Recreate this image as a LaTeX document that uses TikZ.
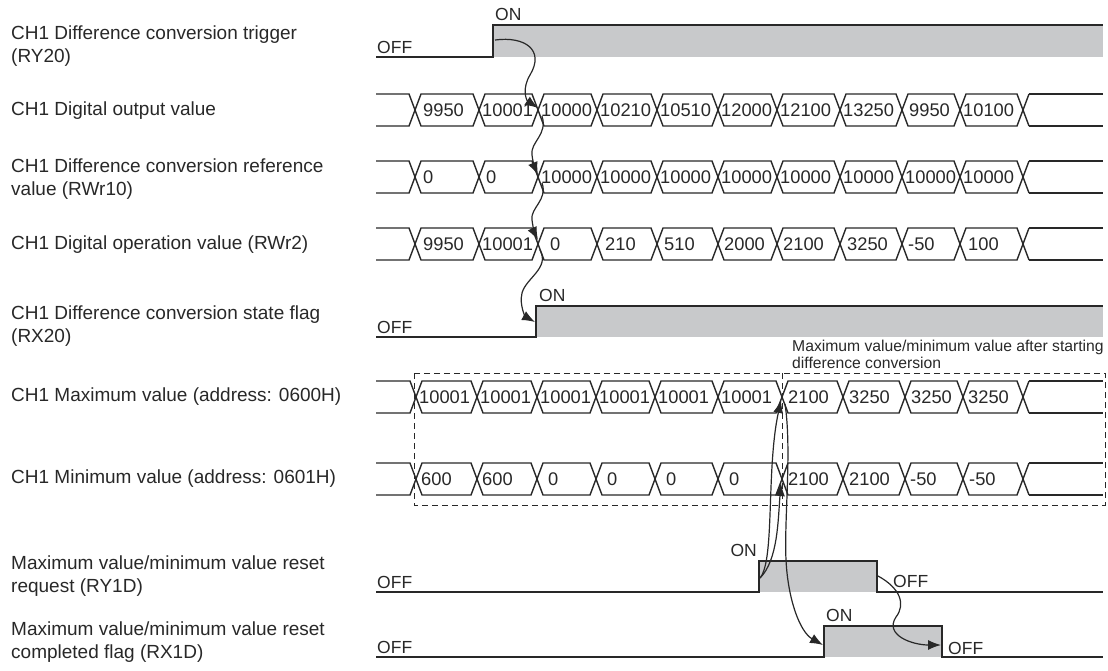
\documentclass[tikz,border=0pt]{standalone}
\usepackage{fontspec}
\setmainfont{Liberation Sans}
\usetikzlibrary{arrows.meta}
\definecolor{ink}{RGB}{40,40,40}
\definecolor{fillg}{RGB}{200,201,203}
\newcommand\busline[3]{%
  \draw[sig] (376,#1-16) \foreach \cx [count=\i, evaluate=\i as \s using {1-2*mod(\i+1,2)}] in {#2} { -- ({\cx-6},{#1-16*\s}) -- ({\cx+6},{#1+16*\s}) };
  \draw[sig] (376,#1+16) \foreach \cx [count=\i, evaluate=\i as \s using {1-2*mod(\i+1,2)}] in {#2} { -- ({\cx-6},{#1+16*\s}) -- ({\cx+6},{#1-16*\s}) };
  \draw[sig] ({#3+6},#1-16) -- (1103,#1-16) ({#3+6},#1+16) -- (1103,#1+16);
}
\newcommand\busvals[2]{%
  \foreach \px/\v in {#2} { \node[val] at (\px,#1) {\v}; }
}
\begin{document}
\begin{tikzpicture}[x=1pt,y=-1pt,
  sig/.style={draw=ink, line width=1.4pt},
  lbl/.style={anchor=west, align=left, inner sep=0pt, font=\fontsize{19}{22.5}\selectfont, text=ink},
  val/.style={anchor=west, inner sep=0pt, font=\fontsize{18.3}{20}\selectfont, text=ink},
  st/.style={inner sep=0pt, font=\fontsize{17.5}{20}\selectfont, text=ink},
  note/.style={anchor=north west, align=left, inner sep=0pt, font=\fontsize{15.7}{16.5}\selectfont, text=ink},
  dbox/.style={draw=ink, line width=1pt, dash pattern=on 6pt off 4pt},
  arr/.style={draw=ink, line width=1.2pt, -{Latex[length=13pt,width=10pt]}}]
\useasboundingbox (0,0) rectangle (1108,670);

% ---- labels
\node[lbl] (l1) at (11,46) {CH1 Difference conversion trigger\\(RY20)};
\node[lbl] (l2) at (11,111) {CH1 Digital output value};
\node[lbl] (l3) at (11,179) {CH1 Difference conversion reference\\value (RWr10)};
\node[lbl] (l4) at (11,245) {CH1 Digital operation value (RWr2)};
\node[lbl] (l5) at (11,326) {CH1 Difference conversion state flag\\(RX20)};
\node[lbl] (l6) at (11,397) {CH1 Maximum value (address: 0600H)};
\node[lbl] (l7) at (11,479) {CH1 Minimum value (address: 0601H)};
\node[lbl] (l8) at (11,576) {Maximum value/minimum value reset\\request (RY1D)};
\node[lbl] (l9) at (11,642) {Maximum value/minimum value reset\\completed flag (RX1D)};

% ---- row 1 : trigger
\fill[fillg] (493,25) rectangle (1103,57);
\draw[sig] (376,57) -- (493,57) -- (493,25) -- (1103,25);
\node[st, anchor=south west] (off1) at (377,54) {OFF};
\node[st, anchor=south west] (on1) at (495,21) {ON};

% ---- row 2 : digital output value
\busline{110}{415,479,538,597,657,718,777,840,902,960,1023}{1023}
\busvals{110}{423/9950,482/10001,541/10000,600/10210,660/10510,721/12000,780/12100,843/13250,909/9950,963/10100}

% ---- row 3 : reference value
\busline{177}{415,479,538,597,657,718,777,840,902,960,1023}{1023}
\busvals{177}{423/0,486/0,541/10000,600/10000,660/10000,721/10000,780/10000,843/10000,905/10000,963/10000}

% ---- row 4 : operation value
\busline{244}{415,479,538,597,657,718,777,840,902,960,1023}{1023}
\busvals{244}{423/9950,482/10001,550/0,605/210,664/510,724/2000,783/2100,847/3250,908/-50,968/100}

% ---- row 5 : state flag
\fill[fillg] (536,306) rectangle (1103,337);
\draw[sig] (376,337) -- (536,337) -- (536,306) -- (1103,306);
\node[st, anchor=south west] (off5) at (377,334) {OFF};
\node[st, anchor=south west] (on5) at (539,302) {ON};

% ---- row 6 : maximum value
\busline{397}{416,477,537,596,655,718,782,843,905,963,1023}{1023}
\busvals{397}{419/10001,480/10001,540/10001,599/10001,658/10001,721/10001,788/2100,849/3250,911/3250,968/3250}

% ---- row 7 : minimum value
\busline{479}{416,477,537,596,655,718,782,843,905,963,1023}{1023}
\busvals{479}{421/600,482/600,548/0,607/0,666/0,729/0,788/2100,849/2100,910/-50,969/-50}

% ---- dashed frame
\draw[dbox] (414,373) rectangle (1105,505);
\draw[dbox] (782,373) -- (782,505);
\node[note] (nt) at (792,340) {Maximum value/minimum value after starting\\difference conversion};

% ---- row 8 : reset request
\fill[fillg] (759,561) rectangle (877,592);
\draw[sig] (376,592) -- (759,592) -- (759,561) -- (877,561) -- (877,592) -- (1103,592);
\node[st, anchor=south west] (off8) at (377,589) {OFF};
\node[st, anchor=south east] (on8) at (757,557) {ON};
\node[st, anchor=south west] (off8b) at (893,588) {OFF};

% ---- row 9 : reset completed
\fill[fillg] (824,626) rectangle (942,657);
\draw[sig] (376,657) -- (824,657) -- (824,626) -- (942,626) -- (942,657) -- (1103,657);
\node[st, anchor=south west] (off9) at (377,654) {OFF};
\node[st, anchor=south west] (on9) at (826,622) {ON};
\node[st, anchor=south west] (off9b) at (948,655) {OFF};

% ---- arrow anchor points
\coordinate (trigRise) at (495,40);
\coordinate (c2) at (538,108);
\coordinate (c2b) at (542,116);
\coordinate (c3) at (538,175);
\coordinate (c3b) at (542,183);
\coordinate (c4) at (538,240);
\coordinate (c4b) at (540,250);
\coordinate (flagRise) at (535,322);
\coordinate (rstRise) at (760,578);
\coordinate (maxUpd) at (781,400);
\coordinate (minUpd) at (781,483);
\coordinate (maxFrom) at (785,404);
\coordinate (doneRise) at (823,645);
\coordinate (rstFall) at (878,576);
\coordinate (doneFall) at (941,645);

% ---- arrows
\draw[arr] (trigRise) .. controls (525,36) and (545,50) .. (530,75) .. controls (522,88) and (526,100) .. (c2);
\draw[arr] (c2b) .. controls (548,135) and (530,142) .. (532,155) .. controls (533,163) and (535,168) .. (c3);
\draw[arr] (c3b) .. controls (548,200) and (530,208) .. (532,220) .. controls (533,228) and (535,234) .. (c4);
\draw[arr] (c4b) .. controls (550,268) and (526,278) .. (522,293) .. controls (519,306) and (526,317) .. (flagRise);
\draw[arr] (rstRise) .. controls (775,560) and (766,470) .. (maxUpd);
\draw[arr] (rstRise) .. controls (778,560) and (778,520) .. (minUpd);
\draw[arr] (maxFrom) .. controls (792,450) and (784,520) .. (786,560) .. controls (788,600) and (800,632) .. (doneRise);
\draw[arr] (rstFall) .. controls (900,588) and (906,604) .. (896,617) .. controls (884,635) and (912,645) .. (doneFall);
\end{tikzpicture}
\end{document}
